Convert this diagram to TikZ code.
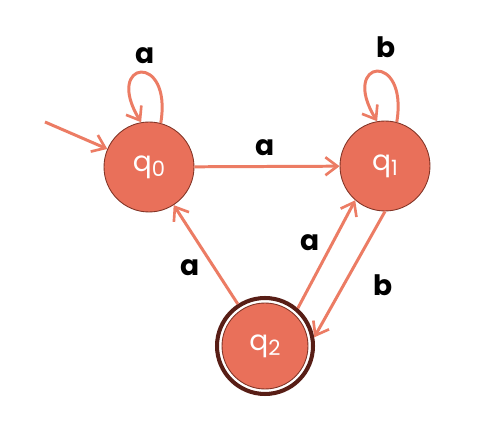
\documentclass[tikz,border=0pt]{standalone}
\usepackage{fontspec}
\setmainfont{Poppins}
\usetikzlibrary{arrows.meta,automata,positioning}
\definecolor{salmon}{RGB}{233,112,90}
\definecolor{edgecol}{RGB}{236,124,100}
\definecolor{rimcol}{RGB}{130,52,38}
\definecolor{ringcol}{RGB}{88,30,22}
\begin{document}
\begin{tikzpicture}[x = 0.02cm,
                    y = -0.02cm,
                    color = {black}]
% style of states and edges
\tikzset{statestyle/.style={circle,fill=salmon,draw=rimcol,line width=0.5pt,minimum size=1.8cm,inner sep=0pt,text=white,font=\fontsize{16}{18}\selectfont}}
\tikzset{edgestyle/.style={edgecol,line width=1.7pt,-{Straight Barb[length=2.4mm,width=3.6mm,line width=1.5pt]}}}
\tikzset{labelstyle/.style={font=\bfseries\fontsize{16}{18}\selectfont,text=black}}
%canvas
\fill[white] (0,0) rectangle (497,421);
%states
\node[statestyle] (q0) at (149,167) {q\raisebox{-0.35ex}{\fontsize{12}{13}\selectfont 0}};
\node[statestyle] (q1) at (385,166) {q\raisebox{-0.35ex}{\fontsize{12}{13}\selectfont 1}};
\node[statestyle,minimum size=1.72cm,outer sep=0.14cm] (q2) at (265,346) {q\raisebox{-0.35ex}{\fontsize{12}{13}\selectfont 2}};
%accepting ring
\draw[ringcol,line width=2.3pt] (q2.center) circle (0.96cm);
%start
\coordinate (start) at (45,122);
\draw[edgestyle] (start) -- (q0);
%loops
\draw[edgestyle] (q0.75) .. controls +(12,-72) and +(-38,-62) .. (q0.100);
\draw[edgestyle] (q1.75) .. controls +(12,-72) and +(-38,-62) .. (q1.100);
%transitions
\draw[edgestyle] (q0) -- (q1);
\draw[edgestyle] (q2) -- (q0);
\draw[edgestyle] (q2.49) -- (q1.229);
\draw[edgestyle] (q1.270) -- (q2.10);
%labels
\node[labelstyle] (la0) at (145,56) {a};
\node[labelstyle] (lb1) at (386,47) {b};
\node[labelstyle] (la01) at (265,148) {a};
\node[labelstyle] (la20) at (190,268) {a};
\node[labelstyle] (la21) at (310,243) {a};
\node[labelstyle] (lb12) at (383,285) {b};
\end{tikzpicture}
\end{document}
